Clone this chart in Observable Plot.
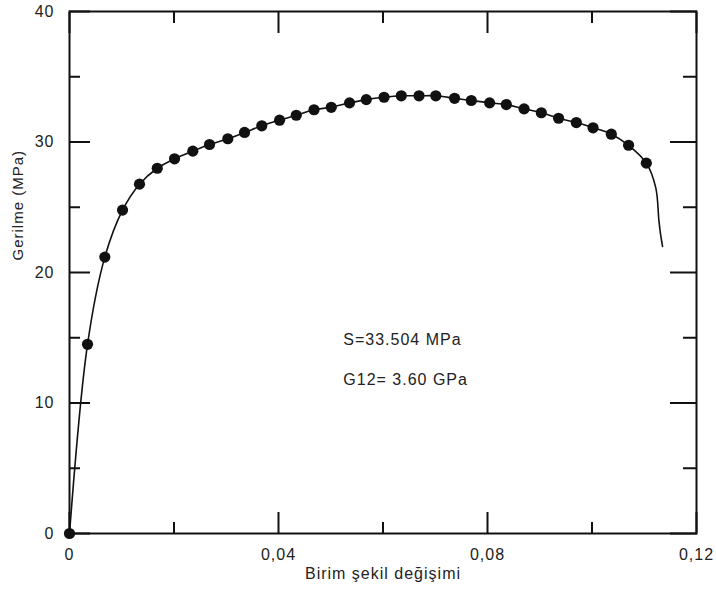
<!DOCTYPE html>
<html>
<head>
<meta charset="utf-8">
<script src="https://cdn.jsdelivr.net/npm/d3@7"></script>
<script src="https://cdn.jsdelivr.net/npm/@observablehq/plot@0.6"></script>
<style>
  body { margin: 0; background: #fff; }
  #chart svg { display: block; }
  #chart svg text { letter-spacing: 1px; }
  #chart svg g[aria-label="y-label"] text { letter-spacing: 0; }
</style>
</head>
<body>
<div id="chart"></div>
<script>
// Measured points (strain, stress in MPa)
const strain = [0, 0.00345, 0.00676, 0.01015, 0.0134, 0.0168, 0.0201, 0.0236, 0.0268, 0.0303,
  0.0335, 0.0368, 0.0402, 0.0434, 0.0468, 0.0501, 0.0536, 0.0568, 0.0602, 0.0635,
  0.0669, 0.0701, 0.0737, 0.0769, 0.0804, 0.0836, 0.0870, 0.0903, 0.0936, 0.0970,
  0.1002, 0.1037, 0.1070, 0.1104];
const stress = [0, 14.5, 21.18, 24.78, 26.77, 27.99, 28.71, 29.30, 29.81, 30.25,
  30.73, 31.24, 31.67, 32.05, 32.47, 32.66, 33.00, 33.25, 33.43, 33.54,
  33.54, 33.54, 33.35, 33.18, 33.00, 32.87, 32.54, 32.24, 31.82, 31.49,
  31.09, 30.60, 29.75, 28.38];
// Curve tail after the last marker (failure drop)
const tailStrain = [0.1122, 0.1128, 0.1131, 0.1135];
const tailStress = [26.5, 24.0, 23.0, 22.0];

const xMajor = [0, 0.04, 0.08, 0.12];
const xMinor = [0.02, 0.06, 0.10];
const yMajor = [0, 10, 20, 30, 40];
const yMinor = [5, 15, 25, 35];
const xTickLabels = ["0", "0,04", "0,08", "0,12"];
const yTickLabels = ["0", "10", "20", "30", "40"];
const xLabel = "Birim şekil değişimi";
const yLabel = "Gerilme (MPa)";
const notes = ["S=33.504 MPa", "G12= 3.60 GPa"];
const noteX = [0.0524, 0.0524];
const noteY = [14.85, 11.76];

const points = strain.map((x, i) => ({x, y: stress[i]}));
const curve = points.concat(tailStrain.map((x, i) => ({x, y: tailStress[i]})));

const ink = "#111";
const tickAxes = (fn, anchor, ticks, size) =>
  fn(ticks, {anchor, tickSize: -size, fill: "none", stroke: ink, strokeWidth: 2, label: null});

const chart = Plot.plot({
  width: 716,
  height: 597,
  marginLeft: 69,
  marginRight: 20,
  marginTop: 11,
  marginBottom: 64,
  style: {fontFamily: "'Liberation Sans', Arial, sans-serif", fontSize: "16px", background: "#fff", color: ink},
  x: {domain: [0, 0.12]},
  y: {domain: [0, 40]},
  marks: [
    Plot.line(curve, {x: "x", y: "y", curve: "catmull-rom", stroke: ink, strokeWidth: 1.6}),
    Plot.dot(points, {x: "x", y: "y", r: 5.6, fill: ink, stroke: "none"}),
    Plot.frame({stroke: ink, strokeWidth: 2}),
    tickAxes(Plot.axisX, "bottom", xMajor, 21),
    tickAxes(Plot.axisX, "bottom", xMinor, 11),
    tickAxes(Plot.axisX, "top", xMajor, 21),
    tickAxes(Plot.axisX, "top", xMinor, 11),
    tickAxes(Plot.axisY, "left", yMajor, 21),
    tickAxes(Plot.axisY, "left", yMinor, 11),
    tickAxes(Plot.axisY, "right", yMajor, 27),
    tickAxes(Plot.axisY, "right", yMinor, 14),
    Plot.axisX(xMajor, {anchor: "bottom", tickSize: 0, tickPadding: 15, label: null, fill: "#222", fontSize: 16,
      tickFormat: d => xTickLabels[xMajor.indexOf(d)]}),
    Plot.axisY(yMajor, {anchor: "left", tickSize: 0, tickPadding: 15, label: null, fill: "#222", fontSize: 16,
      tickFormat: d => yTickLabels[yMajor.indexOf(d)]}),
    Plot.text([xLabel], {text: d => d, frameAnchor: "bottom", dy: 45, fill: "#222", fontSize: 16}),
    Plot.text([yLabel], {text: d => d, frameAnchor: "left", dx: -51, dy: -12, rotate: -90, fill: "#222", fontSize: 15, ariaLabel: "y-label"}),
    Plot.text(notes, {text: d => d, x: (d, i) => noteX[i], y: (d, i) => noteY[i], textAnchor: "start", fill: "#222", fontSize: 16})
  ]
});
document.getElementById("chart").appendChild(chart);
</script>
</body>
</html>
